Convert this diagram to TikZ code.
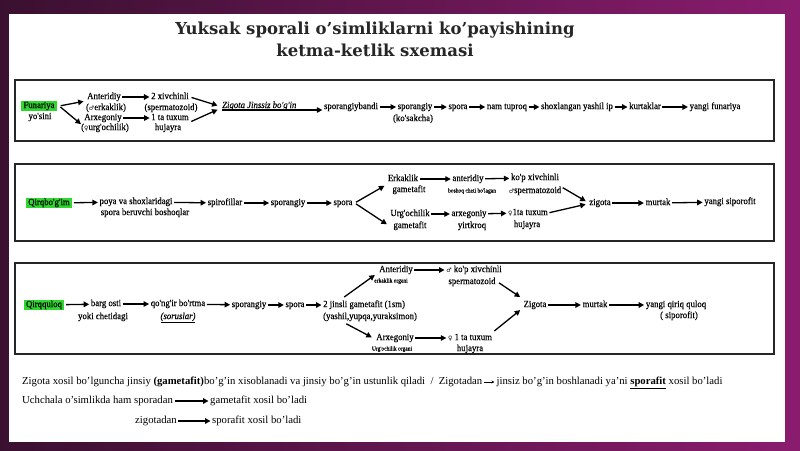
\documentclass[tikz,border=0pt]{standalone}
\usepackage{fontspec}
\setmainfont{Liberation Serif}
\newfontfamily\boxfont{Liberation Serif}[FakeStretch=0.92, FakeBold=0.3]
\newfontfamily\symfont{DejaVu Sans}
\newfontfamily\titlefont{DejaVu Serif}
\usetikzlibrary{arrows.meta}
\definecolor{bgl}{HTML}{3A1030}
\definecolor{bgr}{HTML}{8A1C6E}
\definecolor{hlg}{HTML}{2ED82E}
\newcommand{\ma}{{\symfont\fontsize{6}{6}\selectfont ♂}}
\newcommand{\fe}{{\symfont\fontsize{6}{6}\selectfont ♀}}
\begin{document}
\begin{tikzpicture}[x=1pt,y=-1pt,
  t/.style={font=\boxfont\fontsize{9.5}{10}\selectfont, inner sep=0pt, text height=6pt, text depth=1.8pt},
  sm/.style={font=\boxfont\fontsize{6}{7}\selectfont, inner sep=0pt, text height=4pt, text depth=1pt},
  hl/.style={t, fill=hlg, inner xsep=2.5pt, inner ysep=1.2pt},
  arr/.style={-{Triangle[length=5.5pt,width=5.5pt]}, line width=1.3pt, shorten <=1.5pt, shorten >=1.5pt},
  frame/.style={draw=black!85, line width=1.3pt},
  ttl/.style={font=\titlefont\bfseries\fontsize{16.5}{19}\selectfont, text=black!85, inner sep=0pt},
  btxt/.style={font=\fontsize{10.7}{12}\selectfont, inner sep=0pt, anchor=west, text height=7pt, text depth=2pt}]
\fill[left color=bgl, right color=bgr] (0,0) rectangle (800,450);
\fill[white] (9,14) rectangle (785,442);
\useasboundingbox (0,0) rectangle (800,450);

% title
\node[ttl] (title1) at (375,30) {Yuksak sporali o’simliklarni ko’payishining};
\node[ttl] (title2) at (375,50) {ketma-ketlik sxemasi};

% frames
\draw[frame] (15,80) rectangle (774,141);
\draw[frame] (15,164) rectangle (774,241);
\draw[frame] (15,263) rectangle (774,354);

% ---------- row 1
\node[hl] (fun) at (39,106) {Funariya};
\node[t] (funs) at (40,117) {yo'sini};
\node[t] (ant1) at (104,97) {Anteridiy};
\node[t] (ant1s) at (106,108) {(\ma erkaklik)};
\node[t] (arx1) at (103,118) {Arxegoniy};
\node[t] (arx1s) at (105,128) {(\fe urg'ochilik)};
\node[t] (n2x) at (170,97) {2 xivchinli};
\node[t] (n2xs) at (171,108) {(spermatozoid)};
\node[t] (tux1) at (170,118) {1 ta tuxum};
\node[t] (tux1s) at (168,128) {hujayra};
\node[t, anchor=south west, font=\boxfont\itshape\fontsize{9.5}{10}\selectfont] (zig) at (222,110) {Zigota Jinssiz bo'g'in};
\node[t] (spb) at (351,107) {sporangiybandi};
\node[t] (spg) at (415,107) {sporangiy};
\node[t] (kos) at (413,119) {(ko'sakcha)};
\node[t] (sp) at (458,107) {spora};
\node[t] (nt) at (507,107) {nam tuproq};
\node[t] (sh) at (577,107) {shoxlangan yashil ip};
\node[t] (ku) at (645,107) {kurtaklar};
\node[t] (yf) at (715,107) {yangi funariya};

\draw[arr] ([xshift=2pt]fun.east) -- ([xshift=-2pt]ant1.south west);
\draw[arr] ([xshift=2pt]fun.east) -- ([xshift=-2pt,yshift=-3pt]arx1.south west);
\draw[arr] (ant1.east) -- (n2x.west);
\draw[arr] (arx1.east) -- (tux1.west);
\draw[arr] ([xshift=1pt]n2x.east) -- ([xshift=-3pt,yshift=4pt]zig.south west);
\draw[arr] ([xshift=1pt]tux1.south east) -- ([xshift=-3pt,yshift=1pt]zig.south west);
\draw[arr, shorten <=0pt] (zig.south west) -- (zig.south west -| spb.west);
\draw[arr] (spb) -- (spg);
\draw[arr] (spg) -- (sp);
\draw[arr] (sp) -- (nt);
\draw[arr] (nt) -- (sh);
\draw[arr] (sh) -- (ku);
\draw[arr] (ku) -- (yf);

% ---------- row 2
\node[hl] (q) at (49,203) {Qirqbo'g'im};
\node[t] (poya) at (136,202) {poya va shoxlaridagi};
\node[t] (spb2) at (145,213) {spora beruvchi boshoqlar};
\node[t] (spf) at (225,203) {spirofillar};
\node[t] (spg2) at (288,203) {sporangiy};
\node[t] (sp2) at (343,203) {spora};
\node[t] (erk) at (403,179) {Erkaklik};
\node[t] (erks) at (409,190) {gametafit};
\node[t] (ant2) at (468,179) {anteridiy};
\node[sm] (ant2s) at (472,191) {boshoq cheti bo'lagan};
\node[t] (kop) at (535,178) {ko'p xivchinli};
\node[t] (kops) at (535,191) {\ma spermatozoid};
\node[t] (urg) at (410,214) {Urg'ochilik};
\node[t] (urgs) at (410,226) {gametafit};
\node[t] (arx2) at (469,214) {arxegoniy};
\node[t] (arx2s) at (472,226) {yirtkroq};
\node[t] (tux2) at (528,213) {\fe 1ta tuxum};
\node[t] (tux2s) at (527,225) {hujayra};
\node[t] (zig2) at (600,203) {zigota};
\node[t] (mur2) at (658,203) {murtak};
\node[t] (ys) at (730,202) {yangi siporofit};

\draw[arr] (q) -- (poya);
\draw[arr] (poya) -- (spf);
\draw[arr] (spf) -- (spg2);
\draw[arr] (spg2) -- (sp2);
\draw[arr] ([xshift=2pt]sp2.east) -- ([xshift=-2pt,yshift=-2pt]erk.south west);
\draw[arr] ([xshift=2pt]sp2.east) -- ([xshift=-2pt,yshift=-7pt]urg.south west);
\draw[arr] (erk) -- (ant2);
\draw[arr] (ant2) -- (kop);
\draw[arr] (urg) -- (arx2);
\draw[arr] (arx2) -- (tux2);
\draw[arr] (kops.north east) -- ([xshift=-2pt,yshift=1pt]zig2.west);
\draw[arr] (tux2.east) -- ([xshift=-2pt,yshift=-1pt]zig2.west);
\draw[arr] (zig2) -- (mur2);
\draw[arr] (mur2) -- (ys);

% ---------- row 3
\node[hl] (qq) at (44,305) {Qirqquloq};
\node[t] (bo) at (106,304) {barg osti};
\node[t] (bos) at (103,317) {yoki chetidagi};
\node[t] (qo) at (178,304) {qo'ng'ir bo'rtma};
\node[t] (qos) at (178,317) {\underline{\textit{(soruslar)}}};
\node[t] (spg3) at (249,305) {sporangiy};
\node[t] (sp3) at (295,305) {spora};
\node[t, anchor=west] (gam) at (323,305) {2 jinsli gametafit (1sm)};
\node[t, anchor=west] (gams) at (323,317) {(yashil,yupqa,yuraksimon)};
\node[t] (ant3) at (396,270) {Anteridiy};
\node[sm] (ant3s) at (391,281) {erkaklik organi};
\node[t] (kop3) at (474,270) {\ma\ ko'p xivchinli};
\node[t] (kop3s) at (472,282) {spermatozoid};
\node[t] (arx3) at (395,338) {Arxegoniy};
\node[sm] (arx3s) at (392,349) {Urg'ochilik organi};
\node[t] (tux3) at (470,338) {\fe\ 1 ta tuxum};
\node[t] (tux3s) at (470,349) {hujayra};
\node[t] (zig3) at (535,305) {Zigota};
\node[t] (mur3) at (595,305) {murtak};
\node[t] (yq) at (676,305) {yangi qiriq quloq};
\node[t] (yqs) at (679,316) {( siporofit)};

\draw[arr] (qq) -- (bo);
\draw[arr] (bo) -- (qo);
\draw[arr] (qo) -- (spg3);
\draw[arr] (spg3) -- (sp3);
\draw[arr] (sp3) -- (gam);
\draw[arr] ([xshift=20pt,yshift=3pt]gam.north west) -- ([xshift=-3pt]ant3.south west);
\draw[arr] ([xshift=22pt,yshift=-2pt]gams.south west) -- ([xshift=-3pt]arx3.west);
\draw[arr] (ant3) -- (kop3);
\draw[arr] (arx3) -- (tux3);
\draw[arr] ([xshift=2pt]kop3s.east) -- ([xshift=-2pt,yshift=3pt]zig3.north west);
\draw[arr] ([xshift=1pt,yshift=2pt]tux3.north east) -- ([xshift=-2pt]zig3.south west);
\draw[arr] (zig3) -- (mur3);
\draw[arr] (mur3) -- (yq);

% ---------- bottom text
\node[btxt] (l1a) at (22,382) {Zigota xosil bo'lguncha jinsiy \textbf{(gametafit)}bo'g'in xisoblanadi va jinsiy bo'g'in ustunlik qiladi \ / \ Zigotadan};
\node[btxt] (l1b) at ([xshift=14pt]l1a.east) {jinsiz bo'g'in boshlanadi ya'ni \textbf{\underline{sporafit}} xosil bo'ladi};
\draw[-{Stealth[length=3pt,width=3pt]}, line width=0.7pt, shorten <=2pt, shorten >=2pt] (l1a.east) -- (l1b.west);
\node[btxt] (l2a) at (22,401) {Uchchala o'simlikda ham sporadan};
\node[btxt] (l2b) at (210,401) {gametafit xosil bo'ladi};
\draw[arr] (l2a.east) -- (l2b.west);
\node[btxt] (l3a) at (135,421) {zigotadan};
\node[btxt] (l3b) at (212,421) {sporafit xosil bo'ladi};
\draw[arr] (l3a.east) -- (l3b.west);
\end{tikzpicture}
\end{document}
